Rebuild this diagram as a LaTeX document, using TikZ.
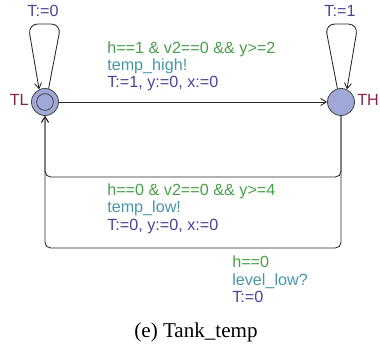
\documentclass[tikz,border=0pt]{standalone}
\usepackage{fontspec}
\setmainfont{Liberation Serif}
\newfontfamily\uppfont{Liberation Sans}
\usetikzlibrary{arrows.meta}
\definecolor{guardgr}{RGB}{72,160,72}
\definecolor{syncte}{RGB}{72,150,170}
\definecolor{updbl}{RGB}{72,68,150}
\definecolor{locname}{RGB}{140,35,75}
\definecolor{locfill}{RGB}{160,168,215}

\begin{document}
\begin{tikzpicture}[x=0.025cm, y=-0.025cm, font=\uppfont\fontsize{11.5}{13}\selectfont,
    loc/.style={circle, draw=black!70, fill=locfill, line width=0.6pt, minimum size=0.675cm, inner sep=0pt},
    edge/.style={draw=black!85, line width=0.6pt, -{Straight Barb[length=4pt,width=5pt]}},
    guard/.style={text=guardgr, anchor=base west, inner sep=0pt},
    sync/.style={text=syncte, anchor=base west, inner sep=0pt},
    upd/.style={text=updbl, anchor=base west, inner sep=0pt}]
    \useasboundingbox (0,0) rectangle (380,347);
    % lokasi
    \node[loc] (TL) at (45,102) {};
    \draw[black!70, line width=0.6pt] (TL.center) circle (0.21cm);
    \node[loc] (TH) at (341,102) {};
    \node[text=locname, anchor=base east, inner sep=0pt] (nTL) at (29,106) {TL};
    \node[text=locname, anchor=base west, inner sep=0pt] (nTH) at (357,106) {TH};
    % loop
    \draw[edge, rounded corners=7pt] (TL.75) -- (61,24) -- (28,24) -- (TL.115);
    \node[upd, anchor=base] (uTL) at (43,17) {T:=0};
    \draw[edge, rounded corners=7pt] (TH.105) -- (325,24) -- (358,24) -- (TH.65);
    \node[upd, anchor=base] (uTH) at (340,17) {T:=1};
    % TL -> TH
    \draw[edge] (TL) -- (TH);
    \node[guard] (g1) at (107,53.5) {h==1 \& v2==0 \&\& y>=2};
    \node[sync] (s1) at (107,71) {temp\_high!};
    \node[upd] (u1) at (107,88) {T:=1, y:=0, x:=0};
    % TH -> TL
    \draw[edge, rounded corners=4pt] (TH.south) -- (TH.south |- 0,177) -- (TL.south |- 0,177) -- (TL.south);
    \node[guard] (g2) at (107,195) {h==0 \& v2==0 \&\& y>=4};
    \node[sync] (s2) at (107,212) {temp\_low!};
    \node[upd] (u2) at (107,230) {T:=0, y:=0, x:=0};
    \draw[edge, rounded corners=4pt] (TH.south) -- (TH.south |- 0,248) -- (TL.south |- 0,248) -- (TL.south);
    \node[guard] (g3) at (232,267) {h==0};
    \node[sync] (s3) at (232,285) {level\_low?};
    \node[upd] (u3) at (232,302) {T:=0};
    % keterangan
    \node[font=\rmfamily\fontsize{15}{18}\selectfont, anchor=base, inner sep=0pt] (cap) at (196,337) {(e) Tank\_temp};
\end{tikzpicture}
\end{document}
